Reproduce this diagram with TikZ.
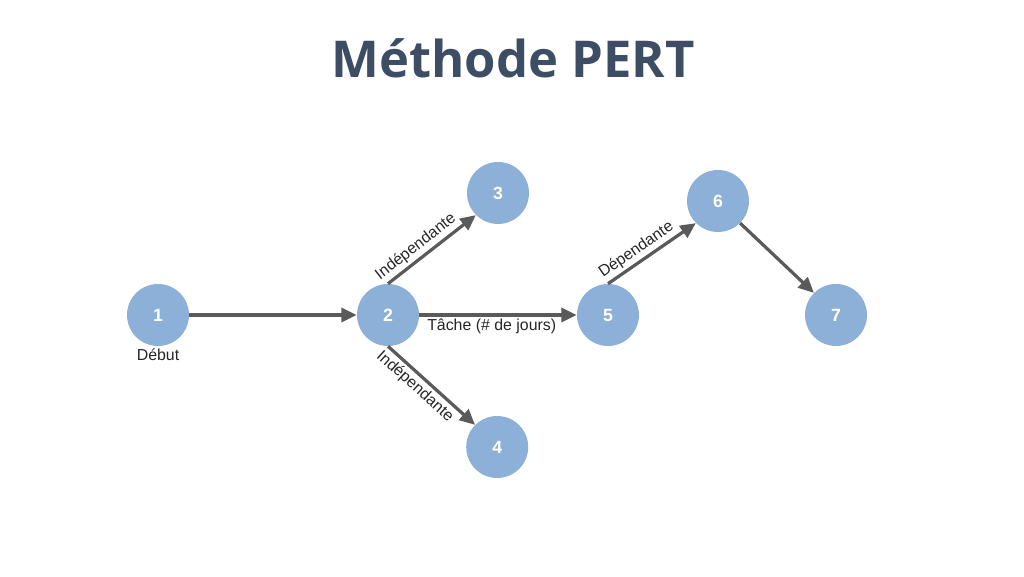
\documentclass[tikz,border=0pt]{standalone}
\usepackage{fontspec}
\setmainfont{Liberation Sans}
\newfontfamily\titlefont{Open Sans}
\usepackage{tikz}
\usetikzlibrary{arrows.meta,positioning}
\definecolor{event}{HTML}{8DB0D8}
\definecolor{slate}{HTML}{3D4E64}
\definecolor{link}{HTML}{5A5A5A}

\begin{document}
\begin{tikzpicture}[on grid,font=\fontsize{11.3}{13}\selectfont,
  ev/.style={circle,fill=event,minimum size=1.55cm,inner sep=0pt,text=white,font=\fontsize{12.6}{14}\selectfont\bfseries},
  arr/.style={-{Triangle[length=11pt,width=10pt]},draw=link,line width=2.3pt},
  lbl/.style={text=black!85,inner sep=2pt}]
\useasboundingbox (0,0) rectangle (25.6,14.4);
\node[font=\titlefont\fontsize{36.1}{42}\selectfont\bfseries,text=slate,anchor=base] (title) at (12.83,12.45) {Méthode PERT};
\node[ev] (n1) at (3.95,6.525) {1};
\node[ev,right=5.75cm of n1] (n2) {2};
\node[ev,above right=3.05cm and 2.75cm of n2] (n3) {3};
\node[ev,below right=3.3cm and 2.73cm of n2] (n4) {4};
\node[ev,right=5.5cm of n2] (n5) {5};
\node[ev,above right=2.85cm and 2.75cm of n5] (n6) {6};
\node[ev,right=5.7cm of n5] (n7) {7};
\node[lbl,below=1cm of n1] (start) {Début};
\draw[arr] (n1) -- (n2);
\draw[arr] (n2.north) -- node[lbl,sloped,above,pos=0.4] {Indépendante} (n3.south west);
\draw[arr] (n2.south) -- node[lbl,sloped,below,pos=0.4] {Indépendante} (n4.north west);
\draw[arr] (n2) -- node[lbl,below,pos=0.46] {Tâche (\# de jours)} (n5);
\draw[arr] (n5.north) -- node[lbl,sloped,above,pos=0.4] {Dépendante} (n6.south west);
\draw[arr] (n6.south east) -- (n7.north west);
\end{tikzpicture}
\end{document}
